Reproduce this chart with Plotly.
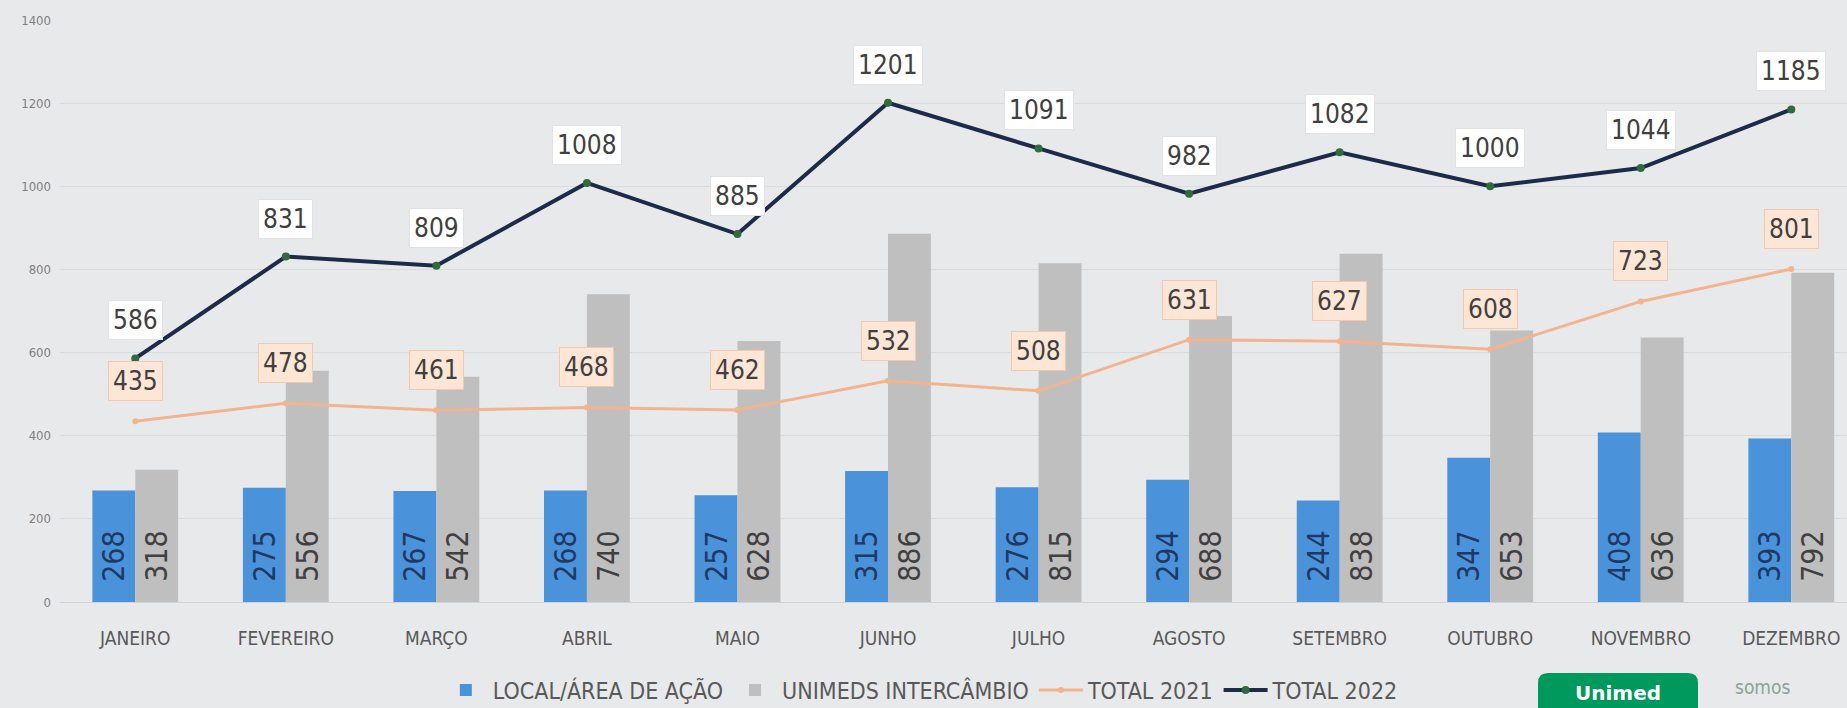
import plotly.graph_objects as go

months = ["JANEIRO", "FEVEREIRO", "MARÇO", "ABRIL", "MAIO", "JUNHO", "JULHO",
          "AGOSTO", "SETEMBRO", "OUTUBRO", "NOVEMBRO", "DEZEMBRO"]
local_area = [268, 275, 267, 268, 257, 315, 276, 294, 244, 347, 408, 393]
intercambio = [318, 556, 542, 740, 628, 886, 815, 688, 838, 653, 636, 792]
total_2021 = [435, 478, 461, 468, 462, 532, 508, 631, 627, 608, 723, 801]
total_2022 = [586, 831, 809, 1008, 885, 1201, 1091, 982, 1082, 1000, 1044, 1185]

W, H = 1847, 708
ML, MT, MB = 60, 20, 106
plot_h = H - MT - MB
plot_w = W - ML

FONT = "Liberation Sans Narrow, DejaVu Sans Condensed, Arial Narrow, sans-serif"
NUMFONT = "Liberation Sans Narrow, DejaVu Sans Condensed, sans-serif"

fig = go.Figure()
fig.add_trace(go.Bar(
    x=months, y=local_area, name="LOCAL/ÁREA DE AÇÃO",
    marker=dict(color="#4a93db", line=dict(width=0)),
    text=local_area, texttemplate="\u00a0\u00a0%{text}", textposition="inside",
    insidetextanchor="start", textangle=-90,
    textfont=dict(family=NUMFONT, size=30, color="#1f3864"),
))
fig.add_trace(go.Bar(
    x=months, y=intercambio, name="UNIMEDS INTERCÂMBIO",
    marker=dict(color="#bfbfbf", line=dict(width=0)),
    text=intercambio, texttemplate="\u00a0\u00a0%{text}", textposition="inside",
    insidetextanchor="start", textangle=-90,
    textfont=dict(family=NUMFONT, size=30, color="#404040"),
))
fig.add_trace(go.Scatter(
    x=months, y=total_2021, name="TOTAL 2021", mode="lines+markers",
    line=dict(color="#f2b48e", width=3),
    marker=dict(color="#f2b48e", size=6),
))
fig.add_trace(go.Scatter(
    x=months, y=total_2022, name="TOTAL 2022", mode="lines+markers",
    line=dict(color="#1c2b4a", width=4),
    marker=dict(color="#2f6b3c", size=8),
))

for m, v in zip(months, total_2021):
    fig.add_annotation(x=m, y=v, text=str(v), showarrow=False, yshift=40,
                       font=dict(family=NUMFONT, size=26, color="#404040"),
                       bgcolor="#fde6d6", bordercolor="#f2c9ae", borderwidth=1, borderpad=4)
for m, v in zip(months, total_2022):
    fig.add_annotation(x=m, y=v, text=str(v), showarrow=False, yshift=38,
                       font=dict(family=NUMFONT, size=26, color="#404040"),
                       bgcolor="#ffffff", bordercolor="#e2e2e2", borderwidth=1, borderpad=4)

# logo-like decoration at bottom right
def px_x(p):
    return (p - ML) / plot_w

def px_y(p):
    return (H - MB - p) / plot_h

x0, x1 = px_x(1538), px_x(1698)
y0, y1 = px_y(673), px_y(740)
rx, ry = 10 / plot_w, 10 / plot_h
path = (f"M {x0+rx},{y0} L {x1-rx},{y0} Q {x1},{y0} {x1},{y0-ry} "
        f"L {x1},{y1} L {x0},{y1} L {x0},{y0-ry} Q {x0},{y0} {x0+rx},{y0} Z")
fig.add_shape(type="path", path=path, xref="paper", yref="paper",
              fillcolor="#00995d", line=dict(width=0))
fig.add_annotation(xref="paper", yref="paper", x=px_x(1618), y=px_y(693),
                   xanchor="center", yanchor="middle",
                   text="<b>Unimed</b>", showarrow=False,
                   font=dict(family="DejaVu Sans, sans-serif", size=20, color="#ffffff"))
fig.add_annotation(xref="paper", yref="paper", x=px_x(1762), y=px_y(687),
                   xanchor="center", yanchor="middle",
                   text="somos", showarrow=False,
                   font=dict(family="DejaVu Sans Condensed, sans-serif", size=19, color="#86a596"))

fig.update_layout(
    width=W, height=H,
    margin=dict(l=ML, r=0, t=MT, b=MB, autoexpand=False),
    paper_bgcolor="#e8e9eb", plot_bgcolor="#e8e9eb",
    barmode="group", bargap=0.43, bargroupgap=0.0,
    showlegend=True,
    legend=dict(orientation="h", x=0.482, xanchor="center", y=px_y(690), yanchor="middle",
                font=dict(family=FONT, size=23, color="#595959"),
                bgcolor="rgba(0,0,0,0)", itemwidth=44, tracegroupgap=0),
    font=dict(family=FONT, color="#595959"),
)
fig.update_xaxes(range=[-0.5, 11.37], showgrid=False, showline=False, zeroline=False,
                 tickfont=dict(family=FONT, size=19, color="#595959"),
                 ticklabelstandoff=23, fixedrange=True)
fig.update_yaxes(range=[0, 1400], dtick=200, showgrid=True, gridcolor="#dadbdd", gridwidth=1,
                 zeroline=True, zerolinecolor="#d2d3d5", zerolinewidth=1, showline=False,
                 tickfont=dict(family=FONT, size=13, color="#808080"), ticklabelstandoff=8,
                 fixedrange=True)

fig.write_html("out.html", config={"displayModeBar": False},
               post_script="document.body.style.margin='0';document.body.style.overflow='hidden';")
